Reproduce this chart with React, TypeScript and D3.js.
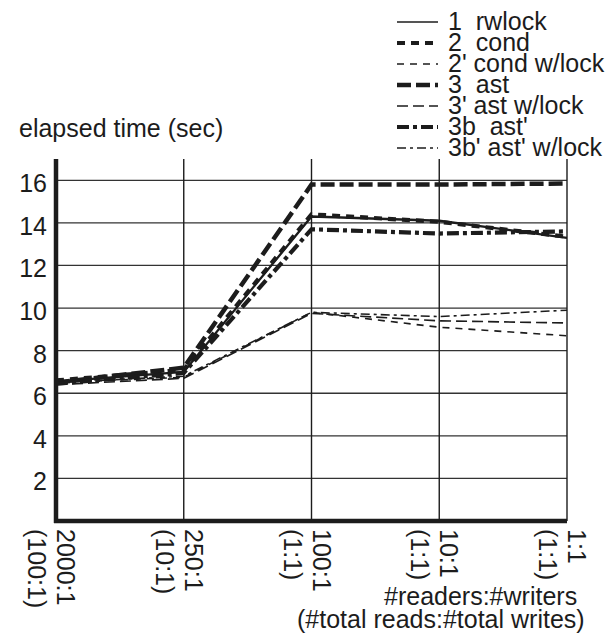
import * as d3 from "d3";

const categories = ["2000:1", "250:1", "100:1", "10:1", "1:1"];
const subLabels = ["(100:1)", "(10:1)", "(1:1)", "(1:1)", "(1:1)"];
const yTicks = [2, 4, 6, 8, 10, 12, 14, 16];

const rwlock = [6.55, 7.0, 14.3, 14.1, 13.3];
const cond = [6.6, 7.1, 14.4, 14.05, 13.35];
const condLock = [6.5, 6.75, 9.8, 9.1, 8.7];
const ast = [6.5, 7.2, 15.8, 15.8, 15.85];
const astLock = [6.4, 6.7, 9.75, 9.4, 9.3];
const astPrime = [6.45, 6.95, 13.7, 13.5, 13.6];
const astPrimeLock = [6.5, 6.8, 9.8, 9.6, 9.9];

const seriesNames = ["1  rwlock", "2  cond", "2' cond w/lock", "3  ast", "3' ast w/lock", "3b  ast'", "3b' ast' w/lock"];
const seriesValues = [rwlock, cond, condLock, ast, astLock, astPrime, astPrimeLock];
const strokeWidths = [2.3, 4.2, 1.6, 4.5, 1.6, 4.2, 1.6];
const dashes = ["", "8,6", "7,6", "14,5", "11,5", "12,4,4,4", "9,4,3,4"];

const W = 610;
const H = 635;
const M = { left: 56, right: 43, top: 159, bottom: 114 };
const FONT = "'Liberation Sans', Arial, Helvetica, sans-serif";
const INK = "#1c1c1c";

export default function App() {
  const x = d3.scalePoint<string>().domain(categories).range([M.left, W - M.right]);
  const y = d3.scaleLinear().domain([0, 17]).range([H - M.bottom, M.top]);
  const line = d3
    .line<number>()
    .x((_, i) => x(categories[i]) as number)
    .y((d) => y(d));

  const x0 = M.left;
  const x1 = W - M.right;
  const y0 = y(0);

  return (
    <svg
      width={W}
      height={H}
      style={{ position: "absolute", left: 0, top: 0, background: "#fff" }}
      fontFamily={FONT}
      fill={INK}
    >
      {/* horizontal grid */}
      {yTicks.map((t) => (
        <line key={"g" + t} x1={x0} x2={x1} y1={y(t)} y2={y(t)} stroke="#333" strokeWidth={1.3} />
      ))}
      {/* vertical grid */}
      {categories.map((c) => (
        <line key={"v" + c} x1={x(c)} x2={x(c)} y1={y0} y2={y(17)} stroke={INK} strokeWidth={1.4} />
      ))}

      {/* series */}
      {seriesValues.map((vals, i) => (
        <path
          key={"s" + i}
          d={line(vals) || ""}
          fill="none"
          stroke={INK}
          strokeWidth={strokeWidths[i]}
          strokeDasharray={dashes[i] || undefined}
          strokeLinejoin="miter"
        />
      ))}

      {/* axes */}
      <line x1={x0} x2={x0} y1={y(17)} y2={y0 + 2} stroke={INK} strokeWidth={4.5} />
      <line x1={x0 - 2} x2={x1} y1={y0} y2={y0} stroke={INK} strokeWidth={4.5} />

      {/* y tick labels */}
      {yTicks.map((t) => (
        <text key={"t" + t} x={x0 - 9} y={y(t) + 12} fontSize={25} textAnchor="end">
          {t}
        </text>
      ))}
      <text x={19} y={137} fontSize={25}>
        elapsed time (sec)
      </text>

      {/* x tick labels, rotated */}
      {categories.map((c, i) => (
        <g key={"x" + c} transform={`translate(${(x(c) as number) + 1},${y0 + 8}) rotate(90)`}>
          <text x={0} y={0} fontSize={25}>
            {c}
          </text>
          <text x={0} y={29} fontSize={25}>
            {subLabels[i]}
          </text>
        </g>
      ))}
      <text x={384} y={605} fontSize={25}>
        #readers:#writers
      </text>
      <text x={297} y={628} fontSize={25}>
        (#total reads:#total writes)
      </text>

      {/* legend */}
      {seriesNames.map((n, i) => {
        const ly = 30 + i * 21;
        return (
          <g key={"l" + i}>
            <line
              x1={397}
              x2={438}
              y1={ly - 8}
              y2={ly - 8}
              stroke={INK}
              strokeWidth={i === 0 ? 1.6 : strokeWidths[i]}
              strokeDasharray={dashes[i] || undefined}
            />
            <text x={448} y={ly} fontSize={25} style={{ whiteSpace: "pre" }}>
              {n}
            </text>
          </g>
        );
      })}
    </svg>
  );
}
